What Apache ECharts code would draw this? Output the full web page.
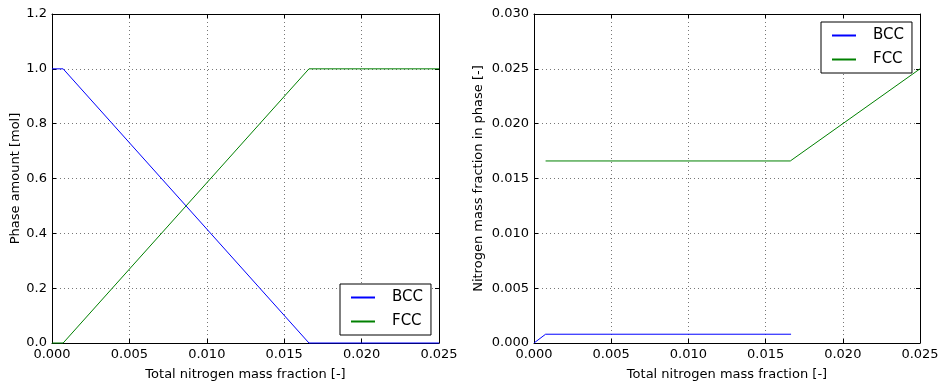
<!DOCTYPE html>
<html><head><meta charset="utf-8">
<script src="https://cdn.jsdelivr.net/npm/echarts@6/dist/echarts.min.js"></script>
<style>html,body{margin:0;padding:0;background:#fff}#c{width:947px;height:387px}</style>
</head><body><div id="c"></div>
<script>
// Left panel: phase amounts
const amountX = [0, 0.00072, 0.0166, 0.025];
const bccAmount = [1, 1, 0, 0];
const fccAmount = [0, 0, 1, 1];
// Right panel: nitrogen mass fraction in phase
const bccNX = [0, 0.00075, 0.01665];
const bccN = [0, 0.0008, 0.0008];
const fccNX = [0.00075, 0.0166, 0.025];
const fccN = [0.0166, 0.0166, 0.025];
// Axis labels
const xName = 'Total nitrogen mass fraction [-]';
const yNameLeft = 'Phase amount [mol]';
const yNameRight = 'Nitrogen mass fraction in phase [-]';
const seriesNames = ['BCC', 'FCC'];
const seriesColors = ['#0000ff', '#008000'];

const FONT = 'DejaVu Sans';
const pair = (xs, ys) => xs.map((x, i) => [x, ys[i]]);

function xAxisMain(grid) {
  return {
    type: 'value', gridIndex: grid, min: 0, max: 0.025, interval: 0.005,
    name: xName, nameLocation: 'middle', nameGap: 25,
    nameTextStyle: {fontFamily: FONT, fontSize: 13, color: '#000'},
    axisLine: {show: true, onZero: false, lineStyle: {color: '#000', width: 1}},
    axisTick: {show: true, inside: true, length: 4, lineStyle: {color: '#000'}},
    axisLabel: {fontFamily: FONT, fontSize: 13, color: '#000', margin: 5, formatter: v => v.toFixed(3)},
    splitLine: {show: true, lineStyle: {color: '#777', type: [1, 3], width: 1}}
  };
}
function xAxisTop(grid) {
  return {
    type: 'value', gridIndex: grid, position: 'top', min: 0, max: 0.025, interval: 0.005,
    axisLine: {show: true, onZero: false, lineStyle: {color: '#000', width: 1}},
    axisTick: {show: true, inside: true, length: 4, lineStyle: {color: '#000'}},
    axisLabel: {show: false}, splitLine: {show: false}
  };
}
function yAxisMain(grid, max, interval, dec, name, gap) {
  return {
    type: 'value', gridIndex: grid, min: 0, max: max, interval: interval,
    name: name, nameLocation: 'middle', nameGap: gap,
    nameTextStyle: {fontFamily: FONT, fontSize: 13, color: '#000'},
    axisLine: {show: true, onZero: false, lineStyle: {color: '#000', width: 1}},
    axisTick: {show: true, inside: true, length: 4, lineStyle: {color: '#000'}},
    axisLabel: {fontFamily: FONT, fontSize: 13, color: '#000', margin: 5, formatter: v => v.toFixed(dec)},
    splitLine: {show: true, lineStyle: {color: '#777', type: [1, 3], width: 1}}
  };
}
function yAxisRight(grid, max, interval) {
  return {
    type: 'value', gridIndex: grid, position: 'right', min: 0, max: max, interval: interval,
    axisLine: {show: true, onZero: false, lineStyle: {color: '#000', width: 1}},
    axisTick: {show: true, inside: true, length: 4, lineStyle: {color: '#000'}},
    axisLabel: {show: false}, splitLine: {show: false}
  };
}
function line(idx, data, xi, yi) {
  const color = seriesColors[idx];
  return {
    name: seriesNames[idx], type: 'line', data: data, xAxisIndex: xi, yAxisIndex: yi,
    symbol: 'line', showSymbol: false, animation: false, clip: false,
    lineStyle: {color: color, width: 1}, itemStyle: {color: color, borderColor: color}
  };
}
function legend(left, top) {
  return {
    data: seriesNames, orient: 'vertical', left: left, top: top,
    backgroundColor: '#fff', borderColor: '#000', borderWidth: 1,
    padding: [6, 8, 6, 10], itemWidth: 24, itemHeight: 14, itemGap: 9,
    selectedMode: false,
    textStyle: {fontFamily: FONT, fontSize: 15, color: '#000', padding: [0, 0, 0, 12]}
  };
}

const chart = echarts.init(document.getElementById('c'));
chart.setOption({
  animation: false,
  backgroundColor: '#fff',
  grid: [
    {left: 52, right: 508, top: 14, bottom: 44, containLabel: false},
    {left: 534, right: 27, top: 14, bottom: 44, containLabel: false}
  ],
  xAxis: [xAxisMain(0), xAxisTop(0), xAxisMain(1), xAxisTop(1)],
  yAxis: [
    yAxisMain(0, 1.2, 0.2, 1, yNameLeft, 30), yAxisRight(0, 1.2, 0.2),
    yAxisMain(1, 0.03, 0.005, 3, yNameRight, 49), yAxisRight(1, 0.03, 0.005)
  ],
  legend: [legend(340, 284), legend(821, 22)],
  series: [
    line(0, pair(amountX, bccAmount), 0, 0),
    line(1, pair(amountX, fccAmount), 0, 0),
    line(0, pair(bccNX, bccN), 2, 2),
    line(1, pair(fccNX, fccN), 2, 2)
  ]
});
</script></body></html>
